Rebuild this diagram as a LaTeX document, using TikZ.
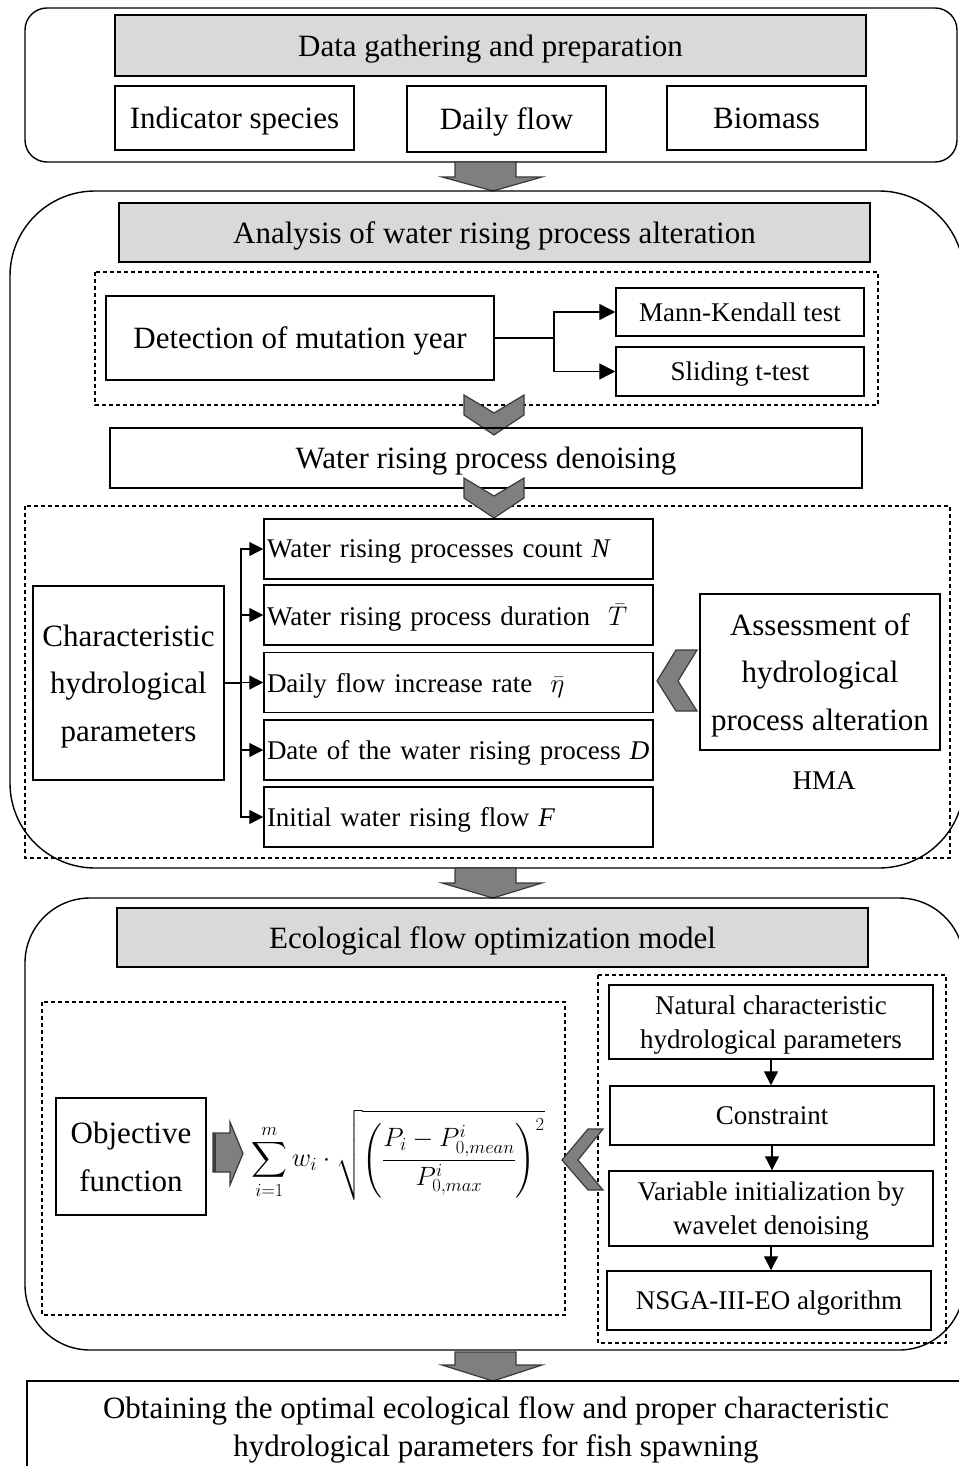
\RequirePackage{fix-cm}
\documentclass[tikz,border=0pt]{standalone}
\usepackage{amsmath}
\usepackage{fontspec}
\setmainfont{Liberation Serif}
\usetikzlibrary{arrows.meta,calc}
\definecolor{hdrgray}{HTML}{D9D9D9}
\definecolor{arrgray}{HTML}{7F7F7F}
\definecolor{arrdark}{HTML}{3A3A3A}
\begin{document}
\begin{tikzpicture}[x=1pt,y=-1pt,
  box/.style={draw, line width=1.5pt, inner sep=0pt, align=center, text depth=0pt},
  sz/.style 2 args={minimum width=#1pt, minimum height=#2pt},
  big/.style={font=\fontsize{31}{47.5}\selectfont},
  small/.style={font=\fontsize{27}{34}\selectfont},
  hdr/.style={box, fill=hdrgray, big},
  param/.style={box, small, minimum width=389pt, minimum height=60pt, text width=383pt, align=left},
  dbox/.style={draw, line width=1.1pt, dash pattern=on 4pt off 3pt},
  outer/.style={draw, line width=1.4pt},
  arr/.style={line width=1.4pt, -{Triangle[length=16pt,width=16pt]}},
  sarr/.style={line width=1.3pt, -{Triangle[length=14pt,width=14pt]}},
  blk/.style={fill=arrgray, draw=arrdark, line width=1.2pt, line join=miter}]
\useasboundingbox (0,0) rectangle (958,1466);

% ---------- Part 1 ----------
\draw[outer, rounded corners=22pt] (25,8) rectangle (957,162);
\node[hdr, sz={751}{61}] (hdr1) at (490.5,45.5) {Data gathering and preparation};
\node[box, big, sz={239}{64}] (ind) at (234.5,118) {Indicator species};
\node[box, big, sz={199}{66}] (daily) at (506.5,119) {Daily flow};
\node[box, big, sz={199}{64}] (bio) at (766.5,118) {Biomass};

\draw[blk] (455,162) -- (516,162) -- (516,177) -- (542,177) -- (493,191) -- (442,177) -- (455,177) -- cycle;

% ---------- Part 2 ----------
\draw[outer, rounded corners=85pt] (10,191) rectangle (964,868);
\node[hdr, sz={751}{59}] (hdr2) at (494.5,232.5) {Analysis of water rising process alteration};
\draw[dbox] (95,272) rectangle (878,405);
\node[box, big, sz={388}{84}] (det) at (300,338) {Detection of mutation year};
\node[box, small, sz={248}{48}] (mk) at (740,312) {Mann-Kendall test};
\node[box, small, sz={248}{49}] (st) at (740,371.5) {Sliding t-test};
\coordinate (j1) at (554,338);
\draw[line width=1.4pt] (det.east) -- (j1);
\draw[arr] (j1) |- (mk.west);
\draw[arr] (j1) |- (st.west);

\draw[blk] (464,395) -- (494,413) -- (524,395) -- (524,415) -- (494,435) -- (464,415) -- cycle;
\node[box, big, sz={752}{60}] (den) at (486,458) {Water rising process denoising};
\draw[dbox] (25,506) rectangle (950,858);
\draw[blk] (464,478) -- (494,496) -- (524,478) -- (524,498) -- (494,518) -- (464,498) -- cycle;

\node[box, big, sz={191}{194}] (char) at (128.5,683) {Characteristic\\hydrological\\parameters};
\node[param] (p1) at (458.5,549) {Water rising processes count \textit{N}};
\node[param] (p2) at (458.5,615) {Water rising process duration \ $\bar{T}$};
\node[param] (p3) at (458.5,682.5) {Daily flow increase rate \ $\bar{\eta}$};
\node[param] (p4) at (458.5,750) {Date of the water rising process \textit{D}};
\node[param] (p5) at (458.5,817) {Initial water rising flow \textit{F}};
\coordinate (j2) at (241,683);
\draw[line width=1.4pt] (char.east) -- (j2);
\foreach \p in {p1,p2,p3,p4,p5} \draw[sarr] (j2) |- (\p.west);

\node[box, big, sz={240}{156}] (ass) at (820,672) {Assessment of\\hydrological\\process alteration};
\node[small] (hma) at (824,781) {HMA};
\draw[blk] (676,650) -- (697,650) -- (678,681) -- (697,711) -- (676,711) -- (657,681) -- cycle;

\draw[blk] (455,868) -- (516,868) -- (516,883) -- (542,883) -- (493,898) -- (442,883) -- (455,883) -- cycle;

% ---------- Part 3 ----------
\draw[outer, rounded corners=65pt] (25,898) rectangle (964,1350);
\node[hdr, sz={751}{59}] (hdr3) at (492.5,937.5) {Ecological flow optimization model};
\draw[dbox] (42,1002) rectangle (565,1315);
\draw[dbox] (598,975) rectangle (946,1343);

\node[box, big, sz={150}{117}] (obj) at (131,1156.5) {Objective\\function};
\draw[blk] (213,1133) -- (230,1133) -- (230,1122) -- (243,1153.5) -- (230,1185) -- (230,1172) -- (213,1172) -- cycle;
\draw[arrdark, line width=3pt] (214.5,1133) -- (214.5,1172);
\node (fml) at (398,1155) {\fontsize{26.5}{32}\selectfont $\displaystyle\sum_{i=1}^{m} w_i\cdot\sqrt{\left(\frac{P_i-P^i_{0,mean}}{P^i_{0,max}}\right)^{2}}$};

\node[box, small, sz={324}{74}] (nat) at (771,1022) {Natural characteristic\\hydrological parameters};
\node[box, small, sz={324}{59}] (con) at (772,1115.5) {Constraint};
\node[box, small, sz={324}{75}] (var) at (771,1208.5) {Variable initialization by\\wavelet denoising};
\node[box, small, sz={324}{59}] (nsga) at (769,1300.5) {NSGA-III-EO algorithm};
\draw[sarr] (nat.south) -- (nat.south |- con.north);
\draw[sarr] (con.south) -- (con.south |- var.north);
\draw[sarr] (var.south) -- (var.south |- nsga.north);
\draw[blk] (588,1129) -- (603,1129) -- (578,1160) -- (603,1190) -- (588,1190) -- (562,1160) -- cycle;

\draw[blk] (455,1352) -- (516,1352) -- (516,1365) -- (542,1365) -- (493,1381) -- (442,1365) -- (455,1365) -- cycle;

% ---------- Result ----------
\node[box, sz={938}{92}, font=\fontsize{31}{38}\selectfont] (final) at (496,1427) {Obtaining the optimal ecological flow and proper characteristic\\hydrological parameters for fish spawning};
\end{tikzpicture}
\end{document}
